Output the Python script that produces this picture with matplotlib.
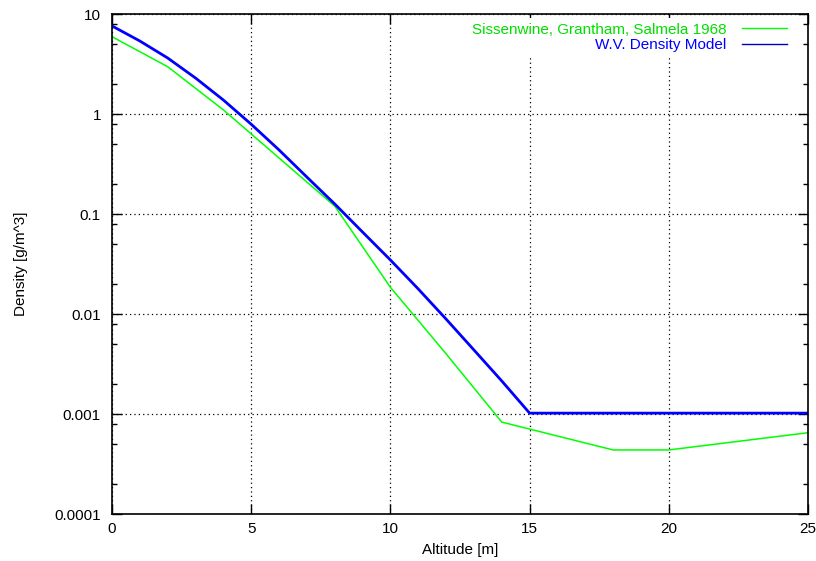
import matplotlib
matplotlib.use("Agg")
import matplotlib.pyplot as plt
from matplotlib.lines import Line2D
from matplotlib.ticker import LogLocator, NullFormatter, FixedLocator

plt.rcParams['font.family'] = ['Liberation Sans', 'DejaVu Sans']

# Sissenwine, Grantham, Salmela 1968 (water vapour density profile)
alt_sgs = [0, 2, 4, 6, 8, 10, 12, 14, 18, 20, 25]
dens_sgs = [5.93, 2.97, 1.10, 0.363, 0.12, 0.0185, 0.0040, 0.00083, 0.000437, 0.000437, 0.00065]

# W.V. density model
alt_wv = [0, 1, 2, 3, 4, 5, 6, 7, 8, 9, 10, 11, 12, 13, 14, 15, 25]
dens_wv = [7.6, 5.37, 3.63, 2.29, 1.38, 0.79, 0.437, 0.234, 0.126, 0.066, 0.0347,
           0.0178, 0.0089, 0.00437, 0.00214, 0.00102, 0.00102]

green = '#00ff00'
blue = '#0000ff'

fig = plt.figure(figsize=(8.16, 5.61), dpi=100)
ax = fig.add_axes([112/816, 1 - 514/561, 696/816, 500/561])

ax.plot(alt_sgs, dens_sgs, color=green, lw=1.1)
ax.plot(alt_wv, dens_wv, color=blue, lw=2)

ax.set_yscale('log')
ax.set_xlim(0, 25)
ax.set_ylim(0.0001, 10)
ax.set_xticks([0, 5, 10, 15, 20, 25])
ax.yaxis.set_major_locator(FixedLocator([1e-4, 1e-3, 1e-2, 1e-1, 1, 10]))
ax.yaxis.set_minor_locator(LogLocator(base=10, subs=(2, 5, 8)))
ax.yaxis.set_minor_formatter(NullFormatter())
ax.set_yticklabels(['0.0001', '0.001', '0.01', '0.1', '1', '10'])

ax.tick_params(which='both', direction='in', top=True, right=True, labelsize=11)
ax.tick_params(which='major', length=7, width=1)
ax.tick_params(which='minor', length=3.5, width=1)
ax.tick_params(axis='x', pad=6)
ax.tick_params(axis='y', pad=8)
for s in ax.spines.values():
    s.set_linewidth(1.2)

ax.grid(True, which='major', color='black', linestyle=(0, (1, 2.5)), linewidth=0.9)

ax.set_xlabel('Altitude [m]', fontsize=11, labelpad=5)
ax.set_ylabel('Density [g/m^3]', fontsize=11, labelpad=19)

handles = [Line2D([], [], color=green, lw=1),
           Line2D([], [], color='#0000c0', lw=1)]
leg = ax.legend(handles, ['Sissenwine, Grantham, Salmela 1968', 'W.V. Density Model'],
                loc='upper right', bbox_to_anchor=(0.977, 0.992), markerfirst=False,
                fontsize=11, handlelength=3.0, handletextpad=1.0, labelspacing=0.1,
                borderpad=0.3, borderaxespad=0,
                frameon=True, fancybox=False, framealpha=1,
                facecolor='white', edgecolor='none')
leg.get_texts()[0].set_color('#00e000')
leg.get_texts()[1].set_color('#0000ff')
leg.set_zorder(5)

fig.savefig('out.png', dpi=100)
